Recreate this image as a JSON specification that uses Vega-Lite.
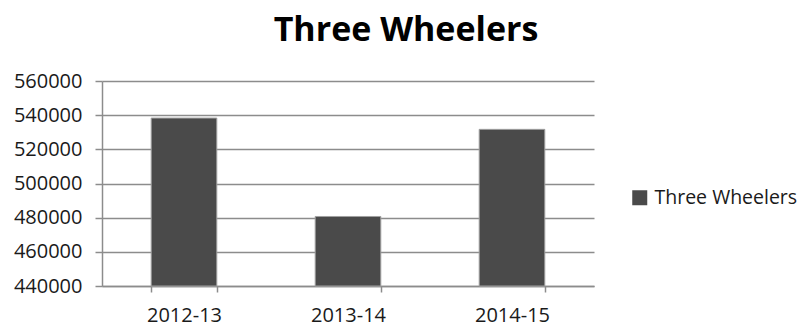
{
  "$schema": "https://vega.github.io/schema/vega-lite/v6.json",
  "width": 492,
  "height": 205,
  "autosize": {"type": "none"},
  "padding": {"left": 102, "top": 81, "right": 204, "bottom": 40},
  "background": "white",
  "title": {
    "text": "Three Wheelers",
    "font": "Open Sans",
    "fontSize": 34,
    "fontWeight": "bold",
    "color": "#000000",
    "anchor": "middle",
    "dx": 58,
    "offset": 23
  },
  "data": {
    "values": [
      {"year": "2012-13", "value": 538300, "series": "Three Wheelers"},
      {"year": "2013-14", "value": 480700, "series": "Three Wheelers"},
      {"year": "2014-15", "value": 531700, "series": "Three Wheelers"}
    ]
  },
  "mark": {"type": "bar", "stroke": "#a0a0a0", "strokeWidth": 1},
  "encoding": {
    "x": {
      "field": "year",
      "type": "nominal",
      "sort": null,
      "scale": {"paddingInner": 0.6, "paddingOuter": 0.3},
      "axis": {
        "title": null,
        "labelAngle": 0,
        "labelFont": "Open Sans",
        "labelFontSize": 20,
        "labelColor": "#1a1a1a",
        "labelBaseline": "alphabetic",
        "labelPadding": 29,
        "tickBand": "extent",
        "tickSize": 6,
        "tickColor": "#8c8c8c",
        "tickWidth": 1.5,
        "domainColor": "#8c8c8c",
        "domainWidth": 1.5,
        "grid": false
      }
    },
    "y": {
      "field": "value",
      "type": "quantitative",
      "scale": {"domain": [440000, 560000], "zero": false, "nice": false},
      "axis": {
        "title": null,
        "values": [440000, 460000, 480000, 500000, 520000, 540000, 560000],
        "format": "d",
        "labelFont": "Open Sans",
        "labelFontSize": 20,
        "labelColor": "#1a1a1a",
        "labelPadding": 13,
        "tickSize": 7,
        "tickColor": "#8c8c8c",
        "tickWidth": 1.5,
        "domainColor": "#8c8c8c",
        "domainWidth": 1.5,
        "grid": true,
        "gridColor": "#8c8c8c",
        "gridWidth": 1.5
      }
    },
    "y2": {"datum": 440000},
    "color": {
      "field": "series",
      "type": "nominal",
      "scale": {"range": ["#4a4a4a"]},
      "legend": {
        "title": null,
        "orient": "none",
        "legendX": 528,
        "legendY": 107,
        "padding": 0,
        "symbolType": "square",
        "symbolSize": 225,
        "symbolStrokeWidth": 0,
        "symbolOpacity": 1,
        "labelFont": "Open Sans",
        "labelFontSize": 19.5,
        "labelColor": "#1a1a1a",
        "labelOffset": 5
      }
    }
  },
  "config": {"view": {"stroke": null}}
}
